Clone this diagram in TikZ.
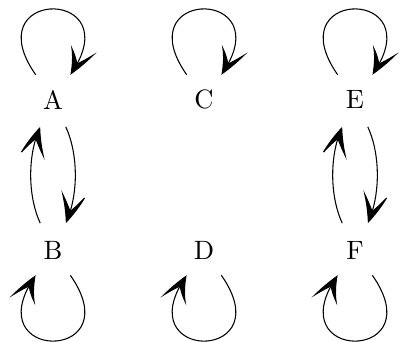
\documentclass[tikz,border=0pt]{standalone}
\usetikzlibrary{arrows.meta,bending}
\tikzset{
  st/.style={circle,minimum size=0.8cm,inner sep=0pt,outer sep=0pt},
  arr/.style={-{Stealth[length=12pt,width=10pt,inset=7pt,bend]}},
}
\begin{document}
\begin{tikzpicture}
\useasboundingbox (-0.702,-3.199) rectangle (4.609,1.318);
\node[st] (A) at (0,0) {A};
\node[st] (C) at (2,0) {C};
\node[st] (E) at (4,0) {E};
\node[st] (B) at (0,-2) {B};
\node[st] (D) at (2,-2) {D};
\node[st] (F) at (4,-2) {F};
% self loops above the top row
\foreach \n in {A,C,E}
  \draw[arr] (\n.125) .. controls +(125:1.42) and +(55:1.42) .. (\n.55);
% self loops below the bottom row
\foreach \n in {B,D,F}
  \draw[arr] (\n.-55) .. controls +(-55:1.42) and +(-125:1.42) .. (\n.-125);
% paired edges between the rows
\foreach \u/\l in {A/B,E/F}{
  \draw[arr] (\u.-65) .. controls +(-65:0.4) and +(65:0.4) .. (\l.65);
  \draw[arr] (\l.115) .. controls +(115:0.4) and +(-115:0.4) .. (\u.-115);
}
\end{tikzpicture}
\end{document}
